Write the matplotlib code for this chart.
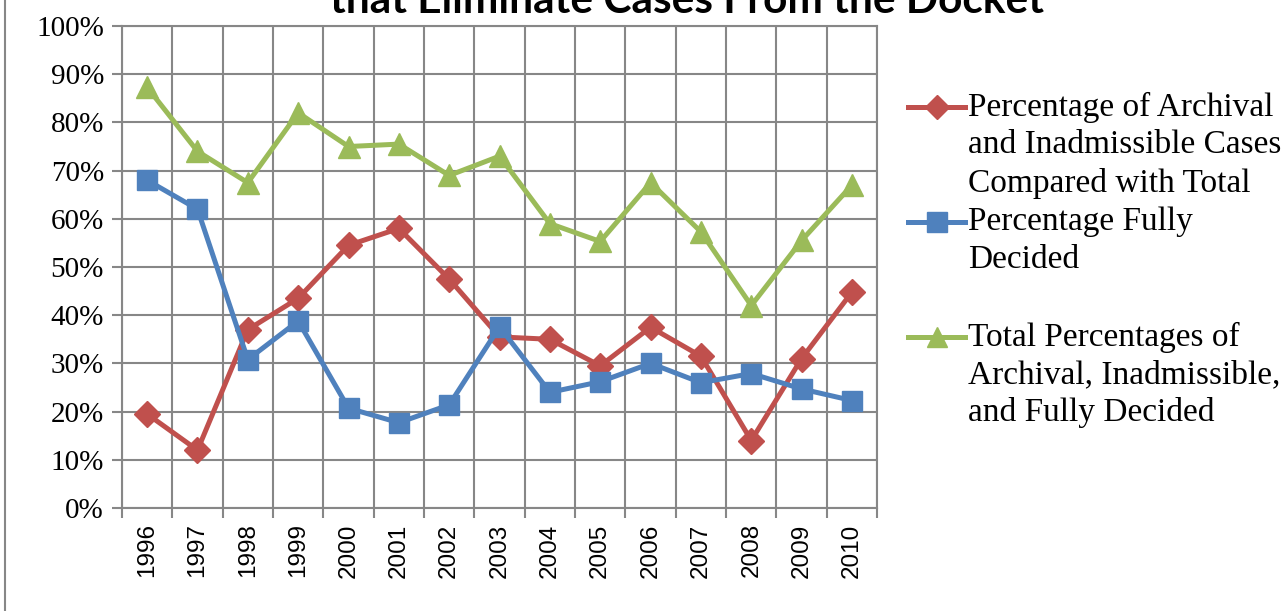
import matplotlib.pyplot as plt
from matplotlib.lines import Line2D
from matplotlib.ticker import FixedLocator, PercentFormatter

# Data
years = ['1996', '1997', '1998', '1999', '2000', '2001', '2002', '2003',
         '2004', '2005', '2006', '2007', '2008', '2009', '2010']
archival = [0.195, 0.12, 0.37, 0.435, 0.545, 0.58, 0.475, 0.355,
            0.35, 0.295, 0.375, 0.315, 0.14, 0.31, 0.448]
fully_decided = [0.68, 0.62, 0.308, 0.388, 0.207, 0.177, 0.214, 0.376,
                 0.24, 0.262, 0.30, 0.26, 0.279, 0.247, 0.223]
total = [0.873, 0.74, 0.675, 0.82, 0.75, 0.755, 0.69, 0.73,
         0.59, 0.553, 0.675, 0.573, 0.42, 0.555, 0.67]

labels = ['Percentage of Archival\nand Inadmissible Cases\nCompared with Total',
          'Percentage Fully\nDecided',
          'Total Percentages of\nArchival, Inadmissible,\nand Fully Decided']
colors = ['#C0504D', '#4F81BD', '#9BBB59']
markers = ['D', 's', '^']
sizes = [13, 15, 16]
serif = ['Liberation Serif', 'DejaVu Serif']

fig = plt.figure(figsize=(12.88, 6.11), dpi=100)
ax = fig.add_axes([0.0947, 0.1686, 0.681 - 0.0947, 0.9574 - 0.1686])

x = list(range(len(years)))
for vals, c, m, s in zip([archival, fully_decided, total], colors, markers, sizes):
    ax.plot(x, vals, color=c, lw=3.6, marker=m, markersize=s,
            markerfacecolor=c, markeredgecolor=c, zorder=3)

ax.set_xlim(-0.5, len(years) - 0.5)
ax.set_ylim(0, 1)
ax.yaxis.set_major_locator(FixedLocator([i / 10 for i in range(11)]))
ax.yaxis.set_major_formatter(PercentFormatter(1.0, decimals=0))
ax.set_xticks(x)
ax.set_xticklabels(years, rotation=90, fontsize=17.5, family='Liberation Sans')
ax.set_xticks([i - 0.5 for i in range(len(years) + 1)], minor=True)
ax.tick_params(axis='x', which='major', length=0, pad=11)
ax.tick_params(axis='x', which='minor', length=7, width=1.5, color='#878787')
ax.tick_params(axis='y', length=7, width=1.5, color='#878787', pad=6)
for lab in ax.get_yticklabels():
    lab.set_family(serif)
    lab.set_fontsize(21)

ax.grid(True, which='minor', axis='x', color='#878787', lw=1.5)
ax.grid(True, which='major', axis='y', color='#878787', lw=1.5)
for sp in ax.spines.values():
    sp.set_color('#878787')
    sp.set_linewidth(1.5)

# clipped title (only the last line is visible)
fig.text(0.533, 1 - 13 / 611, 'that Eliminate Cases From the Docket',
         ha='center', va='baseline', fontsize=30.5, fontweight='bold',
         family=['Lato', 'DejaVu Sans'])

# chart border on the left
fig.add_artist(Line2D([5 / 1288, 5 / 1288], [0, 1], color='#878787', lw=1.5,
                      transform=fig.transFigure))

# legend drawn by hand, handle aligned with first line of each entry
line_h = 38
first_lines = [107, 222, 337]
for lab, c, m, s, y0 in zip(labels, colors, markers, sizes, first_lines):
    yf = 1 - y0 / 611
    fig.add_artist(Line2D([908 / 1288, 965 / 1288], [yf, yf], color=c, lw=3.6,
                          transform=fig.transFigure))
    fig.add_artist(Line2D([936.5 / 1288], [yf], color=c, marker=m,
                          markersize=s - 1, markerfacecolor=c, markeredgecolor=c,
                          transform=fig.transFigure))
    for k, part in enumerate(lab.split('\n')):
        fig.text(968 / 1288, 1 - (y0 + k * line_h) / 611, part, ha='left',
                 va='center', fontsize=24, family=serif)

fig.savefig('out.png', dpi=100)
